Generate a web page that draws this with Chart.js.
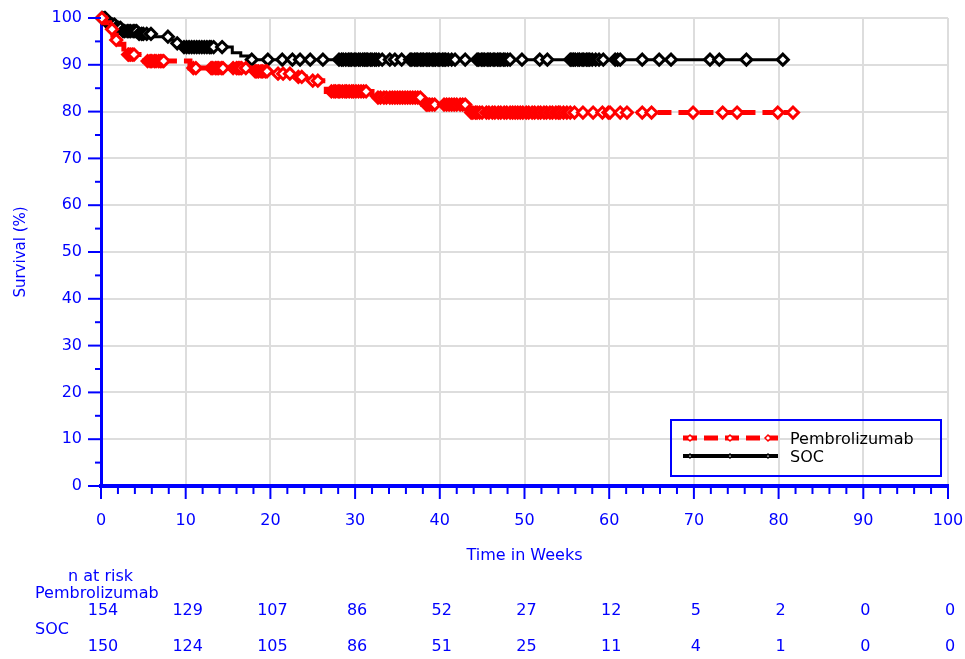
<!DOCTYPE html>
<html>
<head>
<meta charset="utf-8">
<script src="https://cdn.jsdelivr.net/npm/chart.js@4.4.0/dist/chart.umd.min.js"></script>
<style>
  html, body { margin: 0; padding: 0; background: #fff; }
</style>
</head>
<body>
<canvas id="kmChart" width="965" height="659"></canvas>
<script>
  // Kaplan-Meier steps: time (weeks) of each drop and survival (%) after it
  const pembroTimes = [0, 0.5, 1.0, 1.4, 1.8, 2.2, 2.7, 3.2, 4.8, 10.5, 17.8, 20.5, 23.0, 24.8, 26.6, 32.0, 38.0, 43.2];
  const pembroSurv  = [100, 99.0, 97.6, 96.3, 95.3, 94.4, 93.4, 92.2, 90.8, 89.3, 88.6, 88.1, 87.4, 86.6, 84.3, 83.0, 81.5, 79.8];
  const pembroEnd = 82.0;

  const socTimes = [0, 0.6, 1.0, 1.8, 2.5, 4.5, 6.0, 8.0, 9.0, 9.8, 15.5, 16.5, 17.5];
  const socSurv  = [100, 99.3, 98.6, 97.9, 97.2, 96.6, 96.0, 95.3, 94.6, 93.8, 92.6, 91.9, 91.1];
  const socEnd = 80.9;

  // censored observations (weeks)
  const pembroCensor = [0.1, 1.3, 1.8, 3.2, 3.3, 3.5, 3.7, 3.9, 5.5, 5.8, 6.0, 6.3, 6.5, 6.8, 7.0, 7.2, 7.4,
    10.9, 11.2, 13.0, 13.2, 13.5, 13.7, 13.9, 14.2, 14.4, 15.6, 16.0, 16.2, 16.4, 16.6, 17.1, 18.2, 18.4, 18.6,
    18.9, 19.1, 19.4, 19.6, 20.9, 21.5, 22.3, 23.3, 23.7, 25.0, 25.6, 27.2, 27.5, 27.7, 28.0, 28.2, 28.5, 28.8,
    29.0, 29.3, 29.6, 29.8, 30.1, 30.4, 30.7, 31.0, 31.3, 32.7, 33.0, 33.4, 33.7, 34.1, 34.4, 34.7, 35.0, 35.3,
    35.6, 35.9, 36.2, 36.5, 36.8, 37.1, 37.4, 37.7, 38.4, 38.6, 38.8, 39.1, 39.4, 40.5, 40.8, 41.1, 41.4, 41.7,
    42.0, 42.4, 42.7, 43.0, 43.7, 43.9, 44.2, 44.4, 44.7, 45.0, 45.5, 45.8, 46.2, 46.5, 46.9, 47.2, 47.6, 47.9,
    48.3, 48.6, 48.9, 49.2, 49.5, 49.8, 50.2, 50.5, 50.9, 51.2, 51.6, 51.9, 52.3, 52.6, 53.0, 53.3, 53.7, 54.0,
    54.2, 54.6, 55.0, 55.4, 55.9, 56.9, 58.1, 59.2, 59.9, 60.1, 61.3, 62.1, 63.9, 65.0, 69.9, 73.4, 75.1, 79.9, 81.7];
  const socCensor = [0.1, 0.2, 0.4, 0.5, 0.6, 0.8, 1.1, 1.2, 1.4, 1.6, 1.8, 2.1, 2.3, 2.6, 2.8, 3.1, 3.3, 3.5,
    3.8, 4.0, 4.2, 4.5, 4.8, 5.0, 5.4, 5.9, 7.9, 9.0, 9.8, 10.1, 10.4, 10.7, 11.0, 11.3, 11.6, 11.9, 12.2, 12.5,
    12.8, 13.0, 13.3, 14.3, 17.8, 19.7, 21.4, 22.6, 23.5, 24.7, 26.2, 28.1, 28.4, 28.6, 28.9, 29.2, 29.4, 29.6,
    29.9, 30.1, 30.4, 30.6, 30.9, 31.1, 31.3, 31.5, 31.8, 32.0, 32.3, 32.5, 32.8, 33.2, 34.1, 34.7, 35.5, 36.5,
    36.7, 37.0, 37.2, 37.4, 37.7, 37.9, 38.1, 38.4, 38.6, 38.8, 39.1, 39.3, 39.5, 39.8, 40.0, 40.3, 40.5, 40.7,
    41.0, 41.4, 41.8, 43.0, 44.4, 44.6, 44.9, 45.1, 45.3, 45.6, 45.8, 46.0, 46.3, 46.5, 46.8, 47.0, 47.2, 47.5,
    47.7, 48.0, 48.3, 49.7, 51.8, 52.7, 55.4, 55.6, 55.8, 56.0, 56.3, 56.5, 56.8, 57.0, 57.3, 57.5, 57.7, 58.0,
    58.4, 58.8, 59.3, 60.7, 61.0, 61.3, 63.9, 65.9, 67.3, 71.9, 73.0, 76.2, 80.5];

  // number at risk
  const riskWeeks = [0, 10, 20, 30, 40, 50, 60, 70, 80, 90, 100];
  const riskPembro = [154, 129, 107, 86, 52, 27, 12, 5, 2, 0, 0];
  const riskSoc = [150, 124, 105, 86, 51, 25, 11, 4, 1, 0, 0];

  const BLUE = '#0000ff';
  const FONT = '"DejaVu Sans", sans-serif';

  function survAt(times, surv, t) {
    let s = surv[0];
    for (let i = 0; i < times.length; i++) {
      if (times[i] <= t) s = surv[i];
    }
    return s;
  }

  function curve(times, surv, end) {
    const pts = times.map((t, i) => ({x: t, y: surv[i]}));
    pts.push({x: end, y: surv[surv.length - 1]});
    return pts;
  }

  function marks(censor, times, surv) {
    return censor.map(t => ({x: t, y: survAt(times, surv, t)}));
  }

  function diamond(ctx, x, y, r) {
    ctx.beginPath();
    ctx.moveTo(x - r, y);
    ctx.lineTo(x, y - r);
    ctx.lineTo(x + r, y);
    ctx.lineTo(x, y + r);
    ctx.closePath();
    ctx.fill();
    ctx.stroke();
  }

  // keep the plot box fixed, labels may hang over the edges
  function fixBox(size, key) {
    return s => {
      s[key] = size;
      s.paddingLeft = s.paddingRight = s.paddingTop = s.paddingBottom = 0;
    };
  }

  // minor ticks, axis titles, legend box and the at-risk table
  const extras = {
    id: 'extras',
    afterDraw(chart) {
      const ctx = chart.ctx;
      const xs = chart.scales.x, ys = chart.scales.y;
      const area = chart.chartArea;
      ctx.save();

      ctx.strokeStyle = BLUE;
      ctx.lineWidth = 2;
      for (let w = 0; w <= 100; w += 2) {
        const px = xs.getPixelForValue(w);
        const len = w % 10 === 0 ? 13 : 8;
        ctx.beginPath();
        ctx.moveTo(px, area.bottom);
        ctx.lineTo(px, area.bottom + len);
        ctx.stroke();
      }
      for (let s = 0; s <= 100; s += 5) {
        const py = ys.getPixelForValue(s);
        const len = s % 10 === 0 ? 13 : 6;
        ctx.beginPath();
        ctx.moveTo(area.left, py);
        ctx.lineTo(area.left - len, py);
        ctx.stroke();
      }

      ctx.fillStyle = BLUE;
      ctx.font = '16px ' + FONT;
      ctx.textBaseline = 'middle';
      ctx.textAlign = 'center';
      ctx.fillText('Time in Weeks', (area.left + area.right) / 2, 556);

      ctx.save();
      ctx.translate(21, (area.top + area.bottom) / 2);
      ctx.rotate(-Math.PI / 2);
      ctx.font = '15px ' + FONT;
      ctx.fillText('Survival (%)', 0, 0);
      ctx.restore();

      // at-risk table
      ctx.textAlign = 'left';
      ctx.fillText('n at risk', 68, 577);
      ctx.fillText('Pembrolizumab', 35, 594);
      ctx.fillText('SOC', 35, 630);
      ctx.textAlign = 'center';
      riskWeeks.forEach((w, i) => {
        const px = xs.getPixelForValue(w) + 2;
        ctx.fillText(String(riskPembro[i]), px, 611);
        ctx.fillText(String(riskSoc[i]), px, 647);
      });

      // legend
      const bx = area.right - 277, by = area.bottom - 66;
      ctx.lineWidth = 2;
      ctx.strokeRect(bx, by, 270, 56);
      const lx0 = bx + 12, lx1 = bx + 107;
      ctx.lineWidth = 5;
      ctx.strokeStyle = '#ff0000';
      ctx.setLineDash([14, 7]);
      ctx.beginPath();
      ctx.moveTo(lx0, by + 18);
      ctx.lineTo(lx1, by + 18);
      ctx.stroke();
      ctx.setLineDash([]);
      ctx.strokeStyle = '#000000';
      ctx.lineWidth = 4;
      ctx.beginPath();
      ctx.moveTo(lx0, by + 36);
      ctx.lineTo(lx1, by + 36);
      ctx.stroke();
      ctx.lineWidth = 1.5;
      ctx.fillStyle = '#ffffff';
      [lx0 + 7, lx0 + 47, lx0 + 85].forEach(px => {
        ctx.strokeStyle = '#ff0000';
        diamond(ctx, px, by + 18, 3);
        ctx.strokeStyle = '#000000';
        diamond(ctx, px, by + 36, 2);
      });
      ctx.fillStyle = '#000000';
      ctx.font = '16px ' + FONT;
      ctx.textAlign = 'left';
      ctx.fillText('Pembrolizumab', bx + 119, by + 20);
      ctx.fillText('SOC', bx + 119, by + 38);

      ctx.restore();
    }
  };

  new Chart('kmChart', {
    type: 'line',
    data: {
      datasets: [
        {
          label: 'Pembrolizumab censored',
          data: marks(pembroCensor, pembroTimes, pembroSurv),
          showLine: false,
          pointStyle: 'rectRot',
          pointRadius: 5.5,
          pointBorderWidth: 3,
          pointBorderColor: '#ff0000',
          pointBackgroundColor: '#ffffff',
          clip: false,
          order: 1
        },
        {
          label: 'Pembrolizumab',
          data: curve(pembroTimes, pembroSurv, pembroEnd),
          stepped: true,
          borderColor: '#ff0000',
          borderWidth: 5,
          borderDash: [14, 7],
          pointRadius: 0,
          fill: false,
          clip: false,
          order: 2
        },
        {
          label: 'SOC censored',
          data: marks(socCensor, socTimes, socSurv),
          showLine: false,
          pointStyle: 'rectRot',
          pointRadius: 5.5,
          pointBorderWidth: 3,
          pointBorderColor: '#000000',
          pointBackgroundColor: '#ffffff',
          clip: false,
          order: 3
        },
        {
          label: 'SOC',
          data: curve(socTimes, socSurv, socEnd),
          stepped: true,
          borderColor: '#000000',
          borderWidth: 3,
          pointRadius: 0,
          fill: false,
          clip: false,
          order: 4
        }
      ]
    },
    options: {
      responsive: false,
      animation: false,
      events: [],
      layout: {padding: {left: 0, top: 18, right: 17, bottom: 0}},
      plugins: {legend: {display: false}, tooltip: {enabled: false}},
      scales: {
        x: {
          type: 'linear',
          min: 0,
          max: 100,
          afterFit: fixBox(173, 'height'),
          ticks: {stepSize: 10, color: BLUE, font: {family: FONT, size: 16}, padding: 25, maxRotation: 0},
          grid: {color: '#dddddd', lineWidth: 2, drawTicks: false},
          border: {color: BLUE, width: 4}
        },
        y: {
          min: 0,
          max: 100,
          afterFit: fixBox(101, 'width'),
          ticks: {stepSize: 10, color: BLUE, font: {family: FONT, size: 16}, padding: 19},
          grid: {color: '#dddddd', lineWidth: 2, drawTicks: false},
          border: {color: BLUE, width: 3}
        }
      }
    },
    plugins: [extras]
  });
</script>
</body>
</html>
